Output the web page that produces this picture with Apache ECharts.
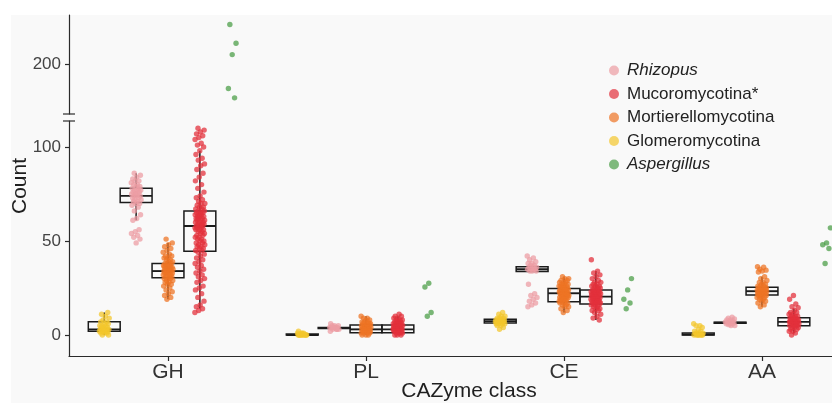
<!DOCTYPE html>
<html><head><meta charset="utf-8">
<script src="https://cdn.jsdelivr.net/npm/echarts@6/dist/echarts.min.js"></script>
<style>html,body{margin:0;padding:0;background:#fff}#c{width:832px;height:403px}</style>
</head><body><div id="c"></div>
<script>
// ---------- data ----------
const categories = ['GH', 'PL', 'CE', 'AA'];
// dodge order inside each category (left -> right)
const taxa = ['Glomeromycotina', 'Rhizopus', 'Mortierellomycotina', 'Mucoromycotina*', 'Aspergillus'];
const legendOrder = ['Rhizopus', 'Mucoromycotina*', 'Mortierellomycotina', 'Glomeromycotina', 'Aspergillus'];
const italicNames = ['Rhizopus', 'Aspergillus'];
const taxonColors = ['#F3C62C', '#EC9CA3', '#EE7424', '#E2303C', '#4C9E47'];

// points per category [GH, PL, CE, AA]
const glomeroPts = [
  [0,0,1,1,1,2,2,2,2,2,3,3,3,3,3,3,4,4,4,5,5,5,6,6,7,7,8,9,10,11,12],
  [0,0,0,0,0,0,0,0,1,1,1,0,0,1,2],
  [12,11,10,10,9,9,9,8,8,8,8,8,7,7,7,7,7,7,7,7,6,6,6,6,5,5,4,3],
  [6,5,5,4,3,2,2,1,1,1,1,0,0,0,0,0,0,0]
];
const rhizopusPts = [
  [86,85,84,83,82,82,81,80,80,79,79,78,78,77,77,77,76,76,75,75,75,74,74,74,73,73,72,72,71,71,70,70,69,68,66,64,62,61,56,55,54,53,52,51,49],
  [2,3,3,3,4,4,4,4,4,4,5,5,5,6,3,4],
  [42,41,40,39,38,38,37,37,36,36,36,35,35,35,35,34,34,34,27,22,21,20,19,18,17,16,15],
  [9.5,9,8.5,8,8,7.5,7,7,7,6.5,6.5,6,6,6,5.5,5,5]
];
const mortierellaPts = [
  [51,49,48,47,46,45,44,43,42,42,41,41,40,40,39,39,38,38,38,37,37,37,36,36,36,36,35,35,35,35,34,34,34,34,33,33,33,33,32,32,32,31,31,31,30,30,30,29,29,28,28,27,27,26,25,24,23,22,21,20,19],
  [10,9,9,8,8,7,7,7,6,6,6,6,5,5,5,5,5,4,4,4,4,4,4,3,3,3,3,3,3,2,2,2,2,2,1,1,1,1,0,0,0],
  [31,30,30,29,29,28,28,28,27,27,27,26,26,26,26,25,25,25,25,24,24,24,24,24,23,23,23,23,23,22,22,22,22,22,22,21,21,21,21,21,20,20,20,20,19,19,19,19,18,18,18,17,17,17,16,16,15,15,14,13,12],
  [36.3,36,35,34.5,34,33.5,31,30,29,28,28,27,27,26,26,26,25,25,25,25,24,24,24,24,24,23,23,23,23,23,23,22,22,22,22,22,21,21,21,21,20,20,20,19,19,18,18,17,16,15]
];
const mucoroPts = [
  [110,109,108,107,106,105,104,102,101,100,98,96,94,93,91,90,88,86,84,82,80,78,76,74,73,72,71,70,70,69,68,68,67,67,
   66,66,65,65,65,64,64,64,63,63,63,62,62,62,61,61,61,60,60,60,59,59,59,58,58,58,58,57,57,57,56,56,56,55,55,54,54,53,53,52,52,51,51,50,50,49,49,48,48,47,47,46,46,45,45,44,
   43,42,41,40,39,38,37,36,35,34,33,32,31,30,29,28,26,25,24,22,20,18,16,15,14,13,12],
  [11,10,10,9,9,8,8,8,7,7,7,7,6,6,6,6,6,5,5,5,5,5,4,4,4,4,4,4,3,3,3,3,3,3,2,2,2,2,2,1,1,1,1,0,0,0],
  [40,34,33,32,31,30,29,28,28,27,27,26,26,26,25,25,25,24,24,24,24,23,23,23,23,22,22,22,22,22,21,21,21,21,21,20,20,20,20,20,19,19,19,19,19,18,18,18,18,17,17,17,17,16,16,16,15,15,14,14,13,13,12,11,10,9,8],
  [21,19,16.5,15,14.5,13,12,12,11,11,10,10,10,9,9,9,9,8,8,8,8,8,7,7,7,7,7,7,6,6,6,6,6,5,5,5,5,4,4,4,3,3,2,2,1,0]
];
const aspergillusPts = [
  [221,211,205,187,182],
  [27.5,25.5,12,10],
  [30,24,19,17,14],
  [57,49,48,46,38]
];

// box stats [lower whisker, Q1, median, Q3, upper whisker] per category
const glomeroBox = [[0,2,3,7,12],[0,0,0,0.5,0.5],[6.4,6.4,7.4,8.4,8.4],[0,0,0.3,1,1]];
const rhizopusBox = [[61,70.5,74,78,86],[3.5,3.5,3.7,4,4],[33.8,33.8,35,36.3,36.3],[6.3,6.3,6.5,6.8,6.8]];
const mortierellaBox = [[19,30.5,34,38,49],[0,1.2,3,5.3,10],[12,17.7,22.2,24.8,31],[15,21.3,23.3,25.4,31]];
const mucoroBox = [[14,44.5,58,66,98],[0,1.2,3,5.3,10],[8,16.5,20.4,24,34],[1,4.9,7,9.2,14]];

const lowerTicks = [0, 50, 100];
const upperTicks = [200];

// ---------- layout constants ----------
const FONT = 'Liberation Sans, Arial, sans-serif';
const GRID_LEFT = 69, GRID_WIDTH = 792;
const LOWER_TOP = 121, LOWER_H = 235;
const UPPER_TOP = 15, UPPER_H = 99;
const PX_PER_UNIT = 1.88;
const ZERO_PX = 335;
const TICK200_PX = 64;
const DODGE = 0.161;
const JITTER = 5;

const allPts = [glomeroPts, rhizopusPts, mortierellaPts, mucoroPts, aspergillusPts];
const allBox = [glomeroBox, rhizopusBox, mortierellaBox, mucoroBox, null];
const BREAK_LOW = 150;

function jit(i) { return (((i * 0.6180339887 + 0.31) % 1) - 0.5) * 2; }

function renderBox(params, api) {
  const c = api.value(0), g = api.value(1);
  const band = api.size([1, 0])[0];
  const w = band * DODGE;
  const off = (g - 2) * w;
  const p = [2, 3, 4, 5, 6].map(d => api.coord([c, api.value(d)]));
  const cx = p[0][0] + off;
  const st = { stroke: '#1b1b1b', lineWidth: 1.5, fill: 'none' };
  return {
    type: 'group', children: [
      { type: 'line', shape: { x1: cx, y1: p[4][1], x2: cx, y2: p[3][1] }, style: st },
      { type: 'line', shape: { x1: cx, y1: p[1][1], x2: cx, y2: p[0][1] }, style: st },
      { type: 'rect', shape: { x: cx - w / 2, y: p[3][1], width: w, height: p[1][1] - p[3][1] }, style: st },
      { type: 'line', shape: { x1: cx - w / 2, y1: p[2][1], x2: cx + w / 2, y2: p[2][1] }, style: { stroke: '#1b1b1b', lineWidth: 1.9 } }
    ]
  };
}

function renderPoint(params, api) {
  const c = api.value(0), g = api.value(2), i = api.value(3);
  const band = api.size([1, 0])[0];
  const off = (g - 2) * band * DODGE + jit(i) * JITTER;
  const p = api.coord([c, api.value(1)]);
  return {
    type: 'circle', shape: { cx: p[0] + off, cy: p[1], r: 2.7 },
    style: { fill: taxonColors[g], opacity: 0.74 }
  };
}

const boxData = [];
allBox.forEach((bx, g) => {
  if (!bx) return;
  bx.forEach((s, c) => { if (s) boxData.push([c, g].concat(s)); });
});

const series = [{
  type: 'custom', name: 'box', xAxisIndex: 0, yAxisIndex: 0, clip: true, z: 2,
  encode: { x: 0, y: [2, 3, 4, 5, 6] }, data: boxData, renderItem: renderBox, silent: true
}];

taxa.forEach((name, g) => {
  const lower = [], upper = [];
  let k = 0;
  allPts[g].forEach((arr, c) => {
    arr.forEach(v => {
      const item = [c, v, g, k++];
      if (v > BREAK_LOW) upper.push(item); else lower.push(item);
    });
  });
  series.push({
    type: 'custom', name, xAxisIndex: 0, yAxisIndex: 0, clip: true, z: 3,
    itemStyle: { color: taxonColors[g], opacity: 0.7 },
    encode: { x: 0, y: 1 }, data: lower, renderItem: renderPoint, silent: true
  });
  if (upper.length) {
    series.push({
      type: 'custom', name, xAxisIndex: 1, yAxisIndex: 1, clip: true, z: 3,
      itemStyle: { color: taxonColors[g], opacity: 0.7 },
      encode: { x: 0, y: 1 }, data: upper, renderItem: renderPoint, silent: true
    });
  }
});

const axisLineStyle = { color: '#2b2b2b', width: 1.2 };
const lowerMin = -(LOWER_TOP + LOWER_H - ZERO_PX) / PX_PER_UNIT;
const lowerMax = lowerMin + LOWER_H / PX_PER_UNIT;
const upperMax = 200 + (TICK200_PX - UPPER_TOP) / PX_PER_UNIT;
const upperMin = upperMax - UPPER_H / PX_PER_UNIT;

const option = {
  backgroundColor: 'transparent',
  animation: false,
  grid: [
    { left: GRID_LEFT, top: LOWER_TOP, width: GRID_WIDTH, height: LOWER_H, outerBoundsMode: 'none', containLabel: false },
    { left: GRID_LEFT, top: UPPER_TOP, width: GRID_WIDTH, height: UPPER_H, outerBoundsMode: 'none', containLabel: false }
  ],
  xAxis: [
    {
      type: 'category', gridIndex: 0, data: categories, boundaryGap: true,
      axisLine: { show: true, onZero: false, lineStyle: axisLineStyle },
      axisTick: { show: true, alignWithLabel: true, length: 5, lineStyle: axisLineStyle },
      axisLabel: { fontSize: 21, color: '#333', margin: 6, fontFamily: FONT },
      splitLine: { show: false },
      name: 'CAZyme class', nameLocation: 'middle', nameGap: 25, nameMoveOverlap: false,
      nameTextStyle: { fontSize: 21, color: '#1f1f1f', fontFamily: FONT, padding: [0, 0, 0, 8] }
    },
    { type: 'category', gridIndex: 1, data: categories, boundaryGap: true, show: false }
  ],
  yAxis: [
    {
      type: 'value', gridIndex: 0, min: lowerMin, max: lowerMax,
      axisLine: { show: true, lineStyle: axisLineStyle },
      axisTick: { show: true, length: 4, customValues: lowerTicks, lineStyle: axisLineStyle },
      axisLabel: { customValues: lowerTicks, fontSize: 17, color: '#444', margin: 8, fontFamily: FONT },
      splitLine: { show: false }
    },
    {
      type: 'value', gridIndex: 1, min: upperMin, max: upperMax,
      axisLine: { show: true, lineStyle: axisLineStyle },
      axisTick: { show: true, length: 4, customValues: upperTicks, lineStyle: axisLineStyle },
      axisLabel: { customValues: upperTicks, fontSize: 17, color: '#444', margin: 8, fontFamily: FONT },
      splitLine: { show: false }
    }
  ],
  legend: {
    orient: 'vertical', left: 604, top: 57,
    icon: 'circle', itemWidth: 16, itemHeight: 10, itemGap: 6.5,
    data: legendOrder.map(n => ({ name: n, itemStyle: { color: taxonColors[taxa.indexOf(n)], opacity: 0.7 } })),
    formatter: n => (italicNames.includes(n) ? '{i|' + n + '}' : '{n|' + n + '}'),
    textStyle: {
      fontFamily: FONT, fontSize: 17, color: '#222',
      rich: {
        i: { fontStyle: 'italic', fontSize: 17, color: '#222', fontFamily: FONT, lineHeight: 17 },
        n: { fontSize: 17, color: '#222', fontFamily: FONT, lineHeight: 17 }
      }
    },
    selectedMode: false
  },
  graphic: { elements: [
    { type: 'rect', z: -100, silent: true, shape: { x: 11, y: 15, width: 900, height: 500 }, style: { fill: '#f9f9f9' } },
    { type: 'line', z: 10, silent: true, shape: { x1: GRID_LEFT - 6, y1: UPPER_TOP + UPPER_H, x2: GRID_LEFT + 6, y2: UPPER_TOP + UPPER_H }, style: { stroke: '#2b2b2b', lineWidth: 1.2 } },
    { type: 'line', z: 10, silent: true, shape: { x1: GRID_LEFT - 6, y1: LOWER_TOP, x2: GRID_LEFT + 6, y2: LOWER_TOP }, style: { stroke: '#2b2b2b', lineWidth: 1.2 } },
    { type: 'text', z: 10, silent: true, x: 20, y: 186, rotation: Math.PI / 2,
      style: { text: 'Count', fontSize: 21, fontFamily: FONT, fill: '#1f1f1f', align: 'center', verticalAlign: 'middle' } }
  ] },
  series
};

const chart = echarts.init(document.getElementById('c'), null, { renderer: 'canvas' });
chart.setOption(option);
</script></body></html>
